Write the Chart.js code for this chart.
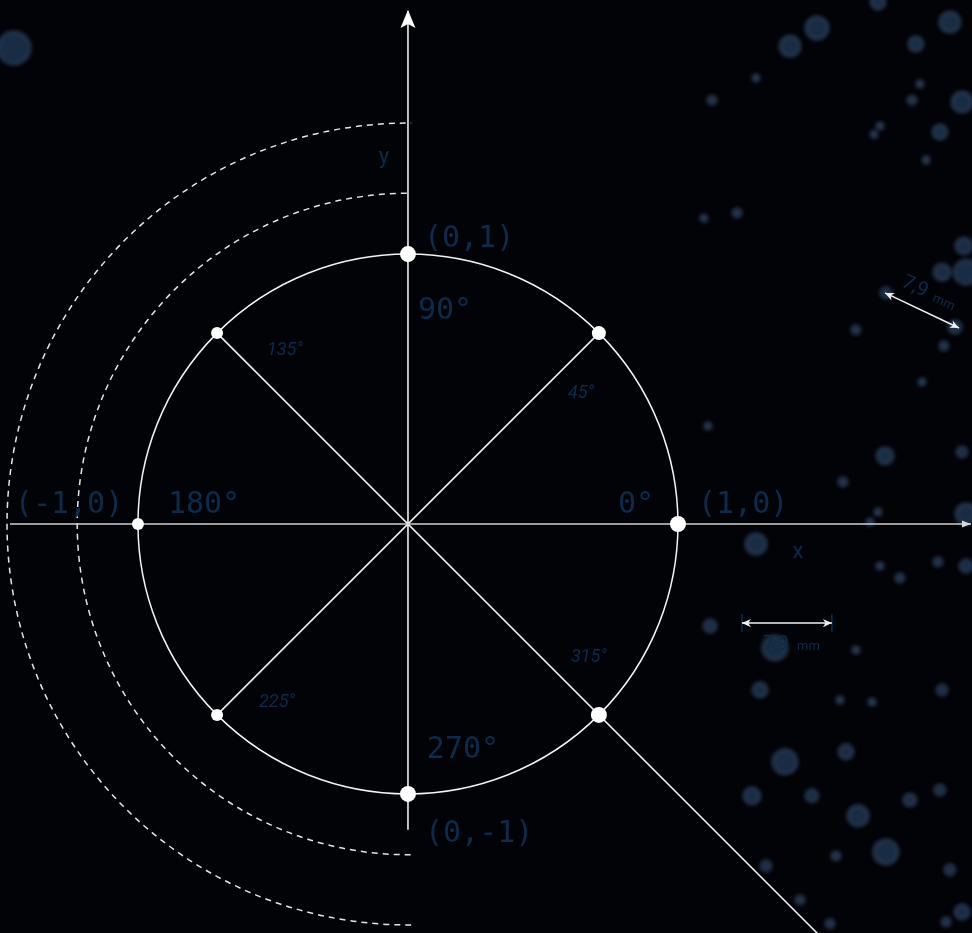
<!DOCTYPE html>
<html lang="en">
<head>
<meta charset="UTF-8">
<title>Unit circle</title>
<script src="https://cdn.jsdelivr.net/npm/chart.js"></script>
<style>
  html, body { margin: 0; padding: 0; background: #020307; }
  #wrap { width: 972px; height: 933px; }
</style>
</head>
<body>
<div id="wrap"><canvas id="circle" width="972" height="933"></canvas></div>
<script>
// marked points on the unit circle, counter-clockwise from 0°
const angles = [0, 45, 90, 135, 180, 225, 270, 315];
const pointX = [1, 0.7071, 0, -0.7071, -1, -0.7071, 0, 0.7071];
const pointY = [0, 0.7071, 1, 0.7071, 0, -0.7071, -1, -0.7071];
const pointSize = [8, 7, 8, 6, 6, 6, 8, 8];

// coordinate / angle labels
const mainLabels = ['(0,1)', '90°', '(1,0)', '0°', '(-1,0)', '180°', '270°', '(0,-1)'];
const mainLabelX = [0.059, 0.037, 1.074, 0.778, -1.456, -0.889, 0.070, 0.063];
const mainLabelY = [1.056, 0.789, 0.070, 0.070, 0.070, 0.070, -0.837, -1.148];
const diagLabels = ['45°', '135°', '225°', '315°'];
const diagLabelX = [0.641, -0.456, -0.485, 0.670];
const diagLabelY = [0.485, 0.641, -0.663, -0.493];

// dashed half rings on the left
const ringRadii = [1.225, 1.485];

// background bubbles (x, y in axis units, radius in px)
const bubbleX = [-1.459, 1.515, 1.415, 1.741, 1.881, 2.007, 2.052, 1.970, 1.126, 1.289,
  1.867, 1.896, 1.726, 1.748, 1.919, 2.059, 1.978, 2.067, 1.219, 1.096,
  1.770, 2.026, 1.659, 1.985, 1.904, 1.111, 1.767, 2.052, 1.611, 1.741,
  1.289, 2.067, 1.711, 1.963, 1.822, 1.748, 2.067, 1.119, 1.359, 1.659,
  1.719, 1.978, 1.600, 1.304, 1.396, 1.622, 1.496, 1.667, 1.859, 1.970,
  1.770, 1.585, 2.007, 2.052, 1.326, 1.452, 1.563, 1.993, 1.274];
const bubbleY = [1.763, 1.837, 1.770, 1.933, 1.778, 1.859, 1.563, 1.452, 1.570, 1.652,
  1.570, 1.630, 1.444, 1.474, 1.348, 1.030, 0.933, 0.933, 1.152, 1.133,
  0.856, 0.730, 0.719, 0.659, 0.526, 0.363, 0.252, 0.267, 0.156, 0.044,
  -0.074, 0.037, 0.007, -0.141, -0.200, -0.156, -0.156, -0.378, -0.459, -0.467,
  -0.659, -0.615, -0.652, -0.615, -0.881, -0.844, -1.007, -1.081, -1.022, -0.985,
  -1.215, -1.230, -1.281, -1.437, -1.267, -1.393, -1.481, -1.474, -1.007];
const bubbleR = [16, 11, 10, 7, 7, 10, 10, 7, 4, 3,
  4, 3, 3, 3, 3, 8, 8, 12, 4, 3,
  5, 6, 4, 4, 3, 3, 8, 5, 4, 3,
  10, 10, 3, 4, 4, 3, 6, 6, 12, 3,
  3, 5, 3, 7, 12, 7, 6, 10, 6, 5,
  12, 4, 5, 7, 5, 4, 4, 4, 8];

// measurement arrows: ends, label position, label angle
const gauges = [
  { from: [1.237, -0.367], to: [1.570, -0.367], text: [1.404, -0.448], rot: 0, ticks: true },
  { from: [1.767, 0.856], to: [2.041, 0.726], text: [1.915, 0.860], rot: 0.44, ticks: false }
];

const labelBlue = '#0b2c4d';

const points = angles.map((a, i) => ({ x: pointX[i], y: pointY[i] }));
const bubbles = bubbleX.map((v, i) => ({ x: v, y: bubbleY[i], r: bubbleR[i] }));

function lineSet(data, color, label) {
  return { label, type: 'scatter', data, showLine: true, borderColor: color, borderWidth: 1.5,
    pointRadius: 0, order: 2 };
}

function arrow(ctx, x1, y1, x2, y2, head) {
  const a = Math.atan2(y2 - y1, x2 - x1);
  ctx.beginPath();
  ctx.moveTo(x1, y1);
  ctx.lineTo(x2, y2);
  ctx.stroke();
  [[x2, y2, a], [x1, y1, a + Math.PI]].forEach(([px, py, ang]) => {
    ctx.beginPath();
    ctx.moveTo(px, py);
    ctx.lineTo(px - head * Math.cos(ang) + head * 0.45 * Math.sin(ang), py - head * Math.sin(ang) - head * 0.45 * Math.cos(ang));
    ctx.lineTo(px - head * 0.7 * Math.cos(ang), py - head * 0.7 * Math.sin(ang));
    ctx.lineTo(px - head * Math.cos(ang) - head * 0.45 * Math.sin(ang), py - head * Math.sin(ang) + head * 0.45 * Math.cos(ang));
    ctx.closePath();
    ctx.fill();
  });
}

const diagram = {
  id: 'diagram',
  beforeDatasetsDraw(chart) {
    const { ctx, scales: { x, y } } = chart;
    const cx = x.getPixelForValue(0), cy = y.getPixelForValue(0);
    const ux = x.getPixelForValue(1) - cx, uy = cy - y.getPixelForValue(1);
    ctx.save();
    ctx.strokeStyle = '#f4f4f4';
    ctx.lineWidth = 1.5;
    ctx.beginPath();
    ctx.ellipse(cx, cy, ux, uy, 0, 0, Math.PI * 2);
    ctx.stroke();
    ctx.strokeStyle = '#e6e6e6';
    ctx.setLineDash([6, 5]);
    ringRadii.forEach(r => {
      ctx.beginPath();
      ctx.ellipse(cx, cy, r * ux, r * uy, 0, Math.PI / 2 - 0.008, Math.PI * 1.5 + 0.008);
      ctx.stroke();
    });
    ctx.restore();
  },
  beforeDatasetDraw(chart, args) {
    if (chart.data.datasets[args.index].label === 'bubbles') {
      chart.ctx.save();
      chart.ctx.filter = 'blur(2px)';
    }
  },
  afterDatasetDraw(chart, args) {
    if (chart.data.datasets[args.index].label === 'bubbles') chart.ctx.restore();
  },
  afterDatasetsDraw(chart) {
    const { ctx, scales: { x, y } } = chart;
    const cx = x.getPixelForValue(0), cy = y.getPixelForValue(0);
    ctx.save();
    // arrowheads on the axes
    ctx.fillStyle = '#ffffff';
    const top = y.getPixelForValue(1.904);
    ctx.beginPath();
    ctx.moveTo(cx, top);
    ctx.lineTo(cx + 7.5, top + 18);
    ctx.lineTo(cx, top + 14);
    ctx.lineTo(cx - 7.5, top + 18);
    ctx.closePath();
    ctx.fill();
    const right = x.getPixelForValue(2.085);
    ctx.fillStyle = '#d8d8d8';
    ctx.beginPath();
    ctx.moveTo(right, cy);
    ctx.lineTo(right - 9, cy - 3.5);
    ctx.lineTo(right - 9, cy + 3.5);
    ctx.closePath();
    ctx.fill();

    // labels
    ctx.fillStyle = labelBlue;
    ctx.textBaseline = 'middle';
    ctx.textAlign = 'left';
    ctx.font = '30px "DejaVu Sans Mono", monospace';
    mainLabels.forEach((t, i) => {
      ctx.fillText(t, x.getPixelForValue(mainLabelX[i]), y.getPixelForValue(mainLabelY[i]));
    });
    ctx.textAlign = 'center';
    ctx.font = 'italic 18px Roboto, sans-serif';
    diagLabels.forEach((t, i) => {
      ctx.fillText(t, x.getPixelForValue(diagLabelX[i]), y.getPixelForValue(diagLabelY[i]));
    });
    ctx.font = '22px Roboto, sans-serif';
    ctx.fillText('y', x.getPixelForValue(-0.089), y.getPixelForValue(1.356));
    ctx.fillText('x', x.getPixelForValue(1.444), y.getPixelForValue(-0.104));

    // measurement gauges
    gauges.forEach(g => {
      const x1 = x.getPixelForValue(g.from[0]), y1 = y.getPixelForValue(g.from[1]);
      const x2 = x.getPixelForValue(g.to[0]), y2 = y.getPixelForValue(g.to[1]);
      if (g.ticks) {
        ctx.strokeStyle = labelBlue;
        ctx.lineWidth = 1.5;
        ctx.beginPath();
        ctx.moveTo(x1, y1 - 9); ctx.lineTo(x1, y1 + 9);
        ctx.moveTo(x2, y2 - 9); ctx.lineTo(x2, y2 + 9);
        ctx.stroke();
      }
      ctx.strokeStyle = '#f0f0f0';
      ctx.fillStyle = '#f0f0f0';
      ctx.lineWidth = 1.5;
      arrow(ctx, x1, y1, x2, y2, 9);
      ctx.save();
      ctx.translate(x.getPixelForValue(g.text[0]), y.getPixelForValue(g.text[1]));
      ctx.rotate(g.rot);
      ctx.fillStyle = labelBlue;
      ctx.textAlign = 'right';
      ctx.font = '20px Roboto, sans-serif';
      ctx.fillText('7,9', 2, 0);
      ctx.textAlign = 'left';
      ctx.font = '13px Roboto, sans-serif';
      ctx.fillText('mm', 10, 2);
      ctx.restore();
    });
    ctx.restore();
  }
};

new Chart(document.getElementById('circle'), {
  type: 'scatter',
  data: {
    datasets: [
      { label: 'bubbles', type: 'bubble', data: bubbles, order: 10,
        backgroundColor: 'rgba(45, 85, 130, 0.5)', borderColor: 'rgba(100, 140, 185, 0.45)', borderWidth: 2 },
      lineSet([{ x: -1.474, y: 0 }, { x: 2.085, y: 0 }], '#d0d0d0', 'x axis'),
      lineSet([{ x: 0, y: -1.133 }, { x: 0, y: 1.90 }], '#ffffff', 'y axis'),
      lineSet([{ x: -0.7071, y: 0.7071 }, { x: 1.53, y: -1.53 }], '#f4f4f4', '135-315'),
      lineSet([{ x: -0.7071, y: -0.7071 }, { x: 0.7071, y: 0.7071 }], '#f4f4f4', '225-45'),
      { label: 'points', type: 'scatter', data: points, order: 1,
        pointRadius: pointSize, backgroundColor: '#ffffff', borderWidth: 0, pointHoverRadius: pointSize }
    ]
  },
  options: {
    responsive: false,
    animation: false,
    events: [],
    layout: { padding: 0, autoPadding: false },
    plugins: { legend: { display: false }, tooltip: { enabled: false } },
    scales: {
      x: { type: 'linear', display: false, min: -1.511, max: 2.089 },
      y: { type: 'linear', display: false, min: -1.515, max: 1.941 }
    }
  },
  plugins: [diagram]
});
</script>
</body>
</html>
